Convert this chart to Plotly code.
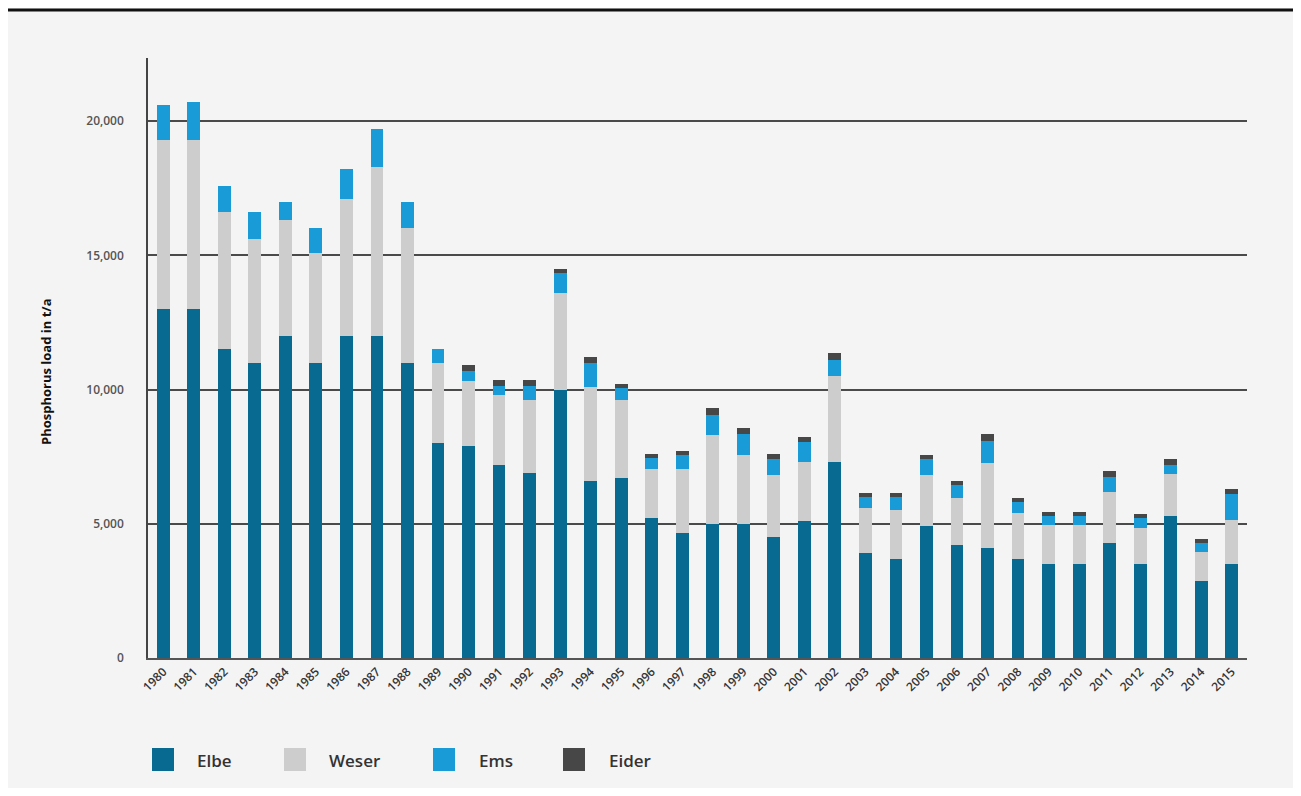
import plotly.graph_objects as go

years = [str(y) for y in range(1980, 2016)]

elbe = [13000, 13000, 11500, 11000, 12000, 11000, 12000, 12000, 11000, 8000,
        7900, 7200, 6900, 10000, 6600, 6700, 5200, 4650, 5000, 5000,
        4500, 5100, 7300, 3900, 3700, 4900, 4200, 4100, 3700, 3500,
        3500, 4300, 3500, 5300, 2850, 3500]
weser = [6300, 6300, 5100, 4600, 4300, 4100, 5100, 6300, 5000, 3000,
         2400, 2600, 2700, 3600, 3500, 2900, 1850, 2400, 3300, 2550,
         2300, 2200, 3200, 1700, 1800, 1900, 1750, 3150, 1700, 1450,
         1450, 1900, 1350, 1550, 1100, 1650]
ems = [1300, 1400, 1000, 1000, 700, 900, 1100, 1400, 1000, 500,
       400, 350, 550, 750, 900, 450, 400, 500, 750, 800,
       600, 750, 600, 400, 500, 600, 500, 850, 400, 350,
       350, 550, 350, 350, 350, 950]
eider = [0, 0, 0, 0, 0, 0, 0, 0, 0, 0,
         200, 200, 200, 150, 200, 150, 150, 150, 250, 230,
         200, 200, 250, 150, 150, 150, 150, 250, 150, 150,
         150, 200, 150, 200, 150, 200]

series_names = ["Elbe", "Weser", "Ems", "Eider"]
series_values = [elbe, weser, ems, eider]
series_colors = ["#086991", "#cdcdcd", "#199bd7", "#474747"]
y_ticks = [0, 5000, 10000, 15000, 20000]
y_tick_labels = ["0", "5,000", "10,000", "15,000", "20,000"]

fig = go.Figure()
for name, vals, col in zip(series_names, series_values, series_colors):
    fig.add_trace(go.Bar(x=years, y=vals, name=name, marker=dict(color=col, line=dict(width=0)),
                         showlegend=False))

# page body has an 8px margin; the figure is sized/positioned to compensate
OFF = 8
W, H = 1301 - 2 * OFF, 796 - 2 * OFF
PL, PR, PT, PB = 148, 1247, 58, 658   # plot area in page pixels
L, T = PL - OFF, PT - OFF
R = W - (PR - OFF)
B = H - (PB - OFF)
pw, ph = PR - PL, PB - PT


def px_x(px):
    return (px - PL) / pw


def px_y(py):
    return (PB - py) / ph


fig.update_layout(
    width=W, height=H,
    barmode="stack", bargap=0.58,
    margin=dict(l=L, r=R, t=T, b=B),
    paper_bgcolor="#f4f4f4", plot_bgcolor="#f4f4f4",
    font=dict(family="Open Sans", color="#444"),
    xaxis=dict(type="category", range=[-0.5, 35.5], tickangle=-45,
               showgrid=False, showline=True, linecolor="#555", linewidth=2,
               ticks="", tickfont=dict(size=12, color="#333", weight=600)),
    yaxis=dict(range=[0, 22350], tickvals=y_ticks, ticktext=y_tick_labels,
               showgrid=True, gridcolor="#4a4a4a", gridwidth=1.5,
               zeroline=False, showline=True, linecolor="#444", linewidth=1.5,
               ticks="", ticklabelstandoff=20,
               tickfont=dict(size=12, color="#555", weight=600)),
    showlegend=False,
)

# top rule
fig.add_shape(type="line", xref="paper", yref="paper", x0=px_x(5), x1=px_x(1296),
              y0=px_y(10), y1=px_y(10), line=dict(color="#111", width=3))

# y title
fig.add_annotation(xref="paper", yref="paper", x=px_x(46), y=px_y(372),
                   text="Phosphorus load in t/a", textangle=-90, showarrow=False,
                   font=dict(size=13, color="#111", weight=700), xanchor="center", yanchor="middle")

# manual legend
sq_left = [152, 284, 433, 563]
txt_left = [195, 327, 477, 607]
for name, col, sx, tx in zip(series_names, series_colors, sq_left, txt_left):
    fig.add_shape(type="rect", xref="paper", yref="paper",
                  x0=px_x(sx), x1=px_x(sx + 22), y0=px_y(771), y1=px_y(748),
                  fillcolor=col, line=dict(width=0))
    fig.add_annotation(xref="paper", yref="paper", x=px_x(tx), y=px_y(760),
                       text=name, showarrow=False, xanchor="left", yanchor="middle",
                       font=dict(size=17, color="#333", weight=600))

fig.write_html("out.html")
